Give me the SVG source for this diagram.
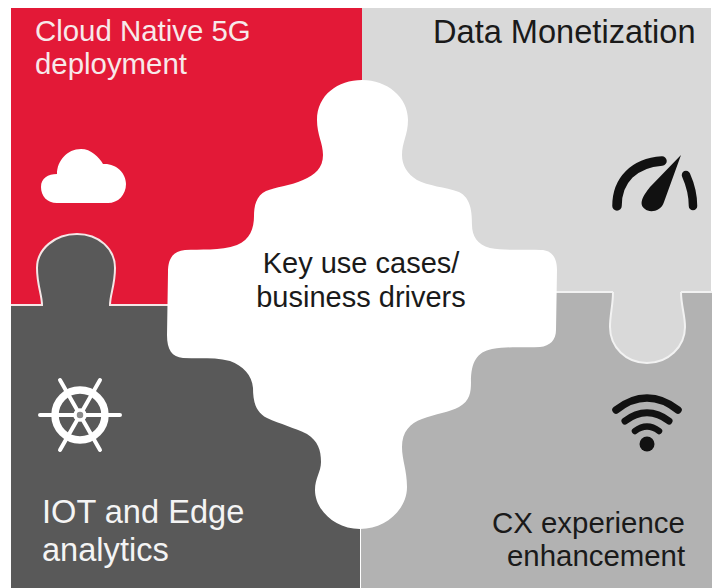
<svg xmlns="http://www.w3.org/2000/svg" width="714" height="588" viewBox="0 0 714 588">
<style>
.t{font-family:"Liberation Sans",Arial,sans-serif;font-size:29.4px}
.b{font-size:32.6px}
.c{font-size:29px}
.w{fill:#f4f4f4}
.k{fill:#1a1a1a}
.edge{stroke:#f4e6e6;stroke-width:2}
.ln{fill:none;stroke-linecap:round}
</style>
<rect width="714" height="588" fill="#fff"/>
<g id="panel-data-monetization">
<path d="M362 8H711V292H681C681 305 685 315 685 327C685 347 668 363 647 363C626 363 610 347 610 327C610 315 613 305 613 292H362Z" fill="#d9d9d9"/>
<text class="t b k" x="433" y="43">Data Monetization</text>
<g fill="#111">
<path class="ln" stroke="#111" stroke-width="9.5" d="M617 206C617 180 634 163 662 161"/>
<path class="ln" stroke="#111" stroke-width="8.5" d="M686 175C690 184 693 195 693 206"/>
<path d="M681 155L664 202C661 212 649 213 645 209C638 204 643 196 650 187Z"/>
</g>
</g>
<g id="panel-cx">
<path d="M361 292H613C613 305 610 315 610 327C610 347 626 363 647 363C668 363 685 347 685 327C685 315 681 305 681 292H712V588H361Z" fill="#b2b2b2"/>
<path d="M613 292C613 305 610 315 610 327C610 347 626 363 647 363C668 363 685 347 685 327C685 315 681 305 681 292" fill="none" stroke="#f2f2f2" stroke-width="2"/>
<path d="M361 292H613M681 292H712" stroke="#f2f2f2" stroke-width="2"/>
<text class="t k" x="492" y="533">CX experience</text>
<text class="t k" x="507" y="566">enhancement</text>
<g stroke="#111" class="ln">
<path stroke-width="7.5" d="M616 410C636 394 658 394 678 410"/>
<path stroke-width="7" d="M625 421C639 410 655 410 669 421"/>
<path stroke-width="6.5" d="M635 431C643 425 651 425 659 431"/>
</g>
<circle cx="647" cy="444" r="7.5" fill="#111"/>
</g>
<g id="panel-cloud-native">
<path d="M11 8H362V305H11Z" fill="#e31937"/>
<text class="t" fill="#f7e9ea" x="35" y="41">Cloud Native 5G</text>
<text class="t" fill="#f7e9ea" x="35" y="74">deployment</text>
<path fill="#fff" d="M57 203C47 203 41 196 41 187C41 178 48 174 57 174C57 161 67 149 81 149C91 149 99 157 103 164C116 163 126 173 126 184C126 195 118 203 108 203Z"/>
</g>
<g id="panel-iot">
<path d="M11 305H42C42 295 37 285 37 268C37 249 55 234 77 234C99 234 115 249 115 268C115 285 110 295 110 305H360V588H11Z" fill="#595959"/>
<path d="M11 305H42C42 295 37 285 37 268C37 249 55 234 77 234C99 234 115 249 115 268C115 285 110 295 110 305H170" fill="none" class="edge"/>
<text class="t b w" x="42" y="523">IOT and Edge</text>
<text class="t b w" x="42" y="561">analytics</text>
<g stroke="#fff" fill="none" stroke-linecap="round">
<circle cx="80" cy="415" r="25" stroke-width="7.5"/>
<path stroke-width="4" d="M40 415H120M60 380L100 450M100 380L60 450"/>
<circle cx="80" cy="415" r="5" stroke-width="3.5" fill="#8a8a8a"/>
</g>
</g>
<g id="connectors"></g>
<g id="center">
<path fill="#fff" d="M362 80C338 80 317 95 317 120C317 135 323 143 323 155C323 168 315 175 303 180C290 186 275 187 266 191C256 196 254 206 254 216C254 228 250 240 237 245C220 251 200 249 185 250C172 251 168 260 168 272L167 335C167 350 172 357 183 358C200 359 215 357 230 361C243 366 252 375 253 388C253 400 255 412 267 418C280 424 295 428 307 434C318 441 321 450 321 462C321 472 315 478 315 490C315 510 335 529 360 529C385 529 407 510 407 487C407 470 402 460 402 447C402 432 410 423 422 419C435 414 450 412 459 407C470 401 471 392 471 382C471 362 477 352 492 349C510 346 525 348 540 347C550 346 556 340 556 330L557 270C557 258 552 250 541 250C525 249 505 251 490 248C477 245 472 235 472 225C472 212 471 198 459 192C445 187 428 186 417 180C407 174 402 165 402 155C402 142 408 135 408 120C408 97 387 80 362 80Z"/>
<text class="t c k" x="361" y="273" text-anchor="middle">Key use cases/</text>
<text class="t c k" x="361" y="307" text-anchor="middle">business drivers</text>
</g>
</svg>
